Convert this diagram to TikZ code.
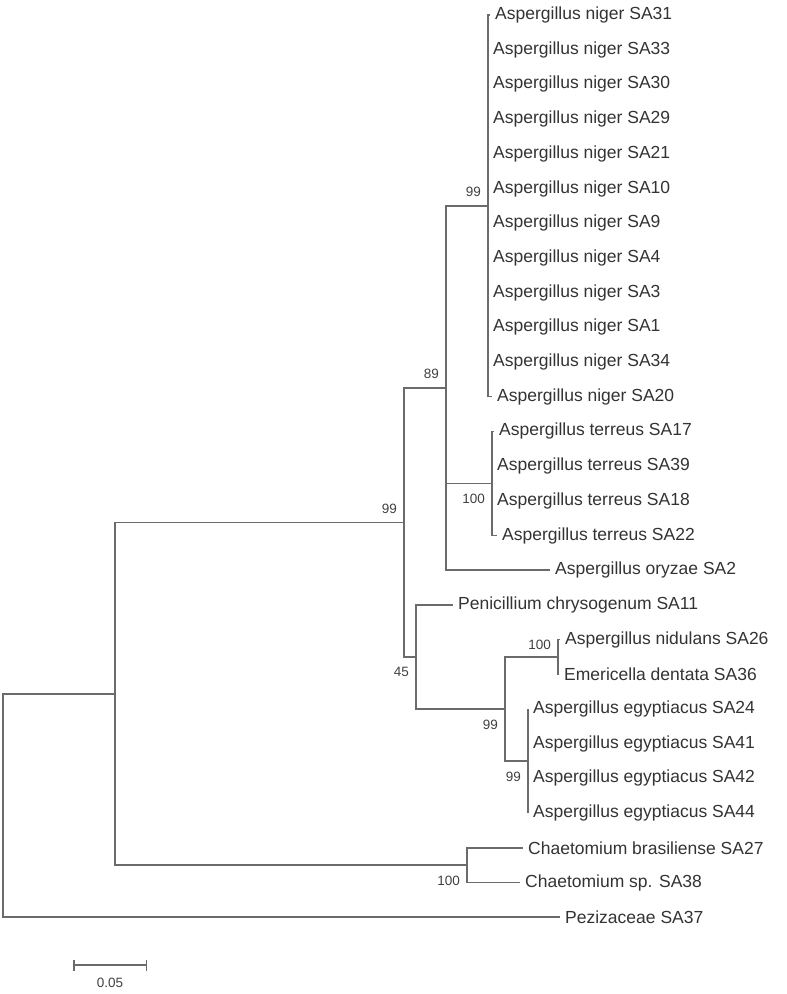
\documentclass[tikz,border=0pt]{standalone}
\usepackage{fontspec}
\setmainfont{Liberation Sans}
\usetikzlibrary{positioning,arrows.meta}

\begin{document}
\begin{tikzpicture}[x=1pt,y=-1pt,
  br/.style={draw=black!58,line width=1.5pt},
  taxon/.style={anchor=west,inner xsep=5pt,inner ysep=0pt,text=black!80,font=\fontsize{17.5}{20}\selectfont},
  boot/.style={inner sep=0pt,text=black!75,font=\fontsize{13.5}{15}\selectfont}]
  \useasboundingbox (0,0) rectangle (787,994);
  % internal nodes
  \coordinate (R) at (3,805.6);
  \coordinate (A) at (115,694);
  \coordinate (B) at (404,522.5);
  \coordinate (C) at (446,388);
  \coordinate (N) at (488,205.9);
  \coordinate (T) at (492,483.5);
  \coordinate (D) at (416,657);
  \coordinate (F) at (505,709);
  \coordinate (P) at (558,657);
  \coordinate (E) at (528,761);
  \coordinate (K) at (467,865);
  % taxa
  \node[taxon] (SA31) at (490,15)    {Aspergillus niger SA31};
  \node[taxon] (SA33) at (488,49.7)  {Aspergillus niger SA33};
  \node[taxon] (SA30) at (488,84.4)  {Aspergillus niger SA30};
  \node[taxon] (SA29) at (488,119.1) {Aspergillus niger SA29};
  \node[taxon] (SA21) at (488,153.8) {Aspergillus niger SA21};
  \node[taxon] (SA10) at (488,188.5) {Aspergillus niger SA10};
  \node[taxon] (SA9)  at (488,223.2) {Aspergillus niger SA9};
  \node[taxon] (SA4)  at (488,257.9) {Aspergillus niger SA4};
  \node[taxon] (SA3)  at (488,292.6) {Aspergillus niger SA3};
  \node[taxon] (SA1)  at (488,327.3) {Aspergillus niger SA1};
  \node[taxon] (SA34) at (488,362)   {Aspergillus niger SA34};
  \node[taxon] (SA20) at (492,396.7) {Aspergillus niger SA20};
  \node[taxon] (SA17) at (494,431.4) {Aspergillus terreus SA17};
  \node[taxon] (SA39) at (492,466.1) {Aspergillus terreus SA39};
  \node[taxon] (SA18) at (492,500.8) {Aspergillus terreus SA18};
  \node[taxon] (SA22) at (497,535.5) {Aspergillus terreus SA22};
  \node[taxon] (SA2)  at (550,570.2) {Aspergillus oryzae SA2};
  \node[taxon] (SA11) at (453,604.9) {Penicillium chrysogenum SA11};
  \node[taxon] (SA26) at (560,639.6) {Aspergillus nidulans SA26};
  \node[taxon] (SA36) at (559,674.3) {Emericella dentata SA36};
  \node[taxon] (SA24) at (528,709)   {Aspergillus egyptiacus SA24};
  \node[taxon] (SA41) at (528,743.7) {Aspergillus egyptiacus SA41};
  \node[taxon] (SA42) at (528,778.4) {Aspergillus egyptiacus SA42};
  \node[taxon] (SA44) at (528,813.1) {Aspergillus egyptiacus SA44};
  \node[taxon] (SA27) at (523,847.8) {Chaetomium brasiliense SA27};
  \node[taxon] (SA38) at (520,882.5) {Chaetomium sp. SA38};
  \node[taxon] (SA37) at (560,917.2) {Pezizaceae SA37};
  % branches
  \draw[br] (R) |- (A);  \draw[br] (R) |- (SA37.west);
  \draw[br] (A) |- (B);  \draw[br] (A) |- (K);
  \draw[br] (B) |- (C);  \draw[br] (B) |- (D);
  \draw[br] (C) |- (N);  \draw[br] (C) |- (T);  \draw[br] (C) |- (SA2.west);
  \draw[br] (N) |- (SA31.west); \draw[br] (N) |- (SA33.west);
  \draw[br] (N) |- (SA30.west); \draw[br] (N) |- (SA29.west);
  \draw[br] (N) |- (SA21.west); \draw[br] (N) |- (SA10.west);
  \draw[br] (N) |- (SA9.west);  \draw[br] (N) |- (SA4.west);
  \draw[br] (N) |- (SA3.west);  \draw[br] (N) |- (SA1.west);
  \draw[br] (N) |- (SA34.west); \draw[br] (N) |- (SA20.west);
  \draw[br] (T) |- (SA17.west); \draw[br] (T) |- (SA39.west);
  \draw[br] (T) |- (SA18.west); \draw[br] (T) |- (SA22.west);
  \draw[br] (D) |- (SA11.west); \draw[br] (D) |- (F);
  \draw[br] (F) |- (P);  \draw[br] (F) |- (E);
  \draw[br] (P) |- (SA26.west); \draw[br] (P) |- (SA36.west);
  \draw[br] (E) |- (SA24.west); \draw[br] (E) |- (SA41.west);
  \draw[br] (E) |- (SA42.west); \draw[br] (E) |- (SA44.west);
  \draw[br] (K) |- (SA27.west); \draw[br] (K) |- (SA38.west);
  % bootstrap values
  \node[boot,left=7pt of N,yshift=14pt] (bN) {99};
  \node[boot,left=7pt of C,yshift=14pt] (bC) {89};
  \node[boot,left=7pt of B,yshift=14pt] (bB) {99};
  \node[boot,left=7pt of P,yshift=12pt] (bP) {100};
  \node[boot,left=7pt of T,yshift=-15pt] (bT) {100};
  \node[boot,left=7pt of D,yshift=-15pt] (bD) {45};
  \node[boot,left=7pt of F,yshift=-16pt] (bF) {99};
  \node[boot,left=7pt of E,yshift=-16pt] (bE) {99};
  \node[boot,left=7pt of K,yshift=-16pt] (bK) {100};
  % scale bar
  \coordinate (s0) at (73,965);
  \coordinate (s1) at (147,965);
  \draw[br,{Bar[width=11pt]}-{Bar[width=11pt]}] (s0) -- (s1);
  \node[boot] (sl) at (110,983) {0.05};
\end{tikzpicture}
\end{document}
